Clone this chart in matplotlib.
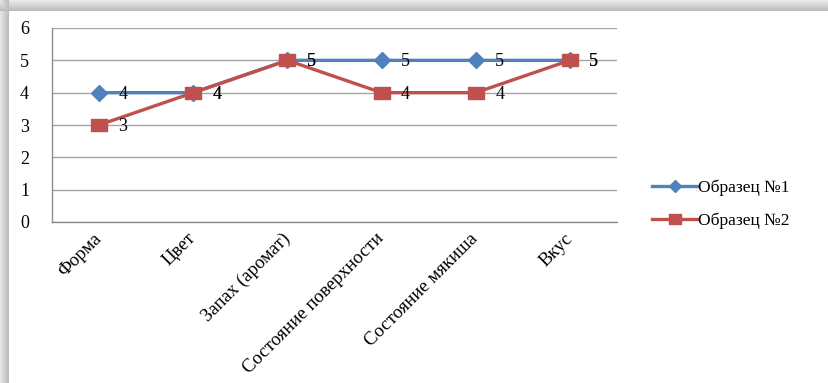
import numpy as np
import matplotlib
matplotlib.use("Agg")
import matplotlib.pyplot as plt
from matplotlib.path import Path
from matplotlib.lines import Line2D

plt.rcParams['font.family'] = ['Liberation Serif', 'DejaVu Serif']

# Оценки образцов по показателям
categories = ["Форма", "Цвет", "Запах (аромат)", "Состояние поверхности",
              "Состояние мякиша", "Вкус"]
sample1 = [4, 4, 5, 5, 5, 5]
sample2 = [3, 4, 5, 4, 4, 5]
series_names = ["Образец №1", "Образец №2"]

BLUE = "#4F81BD"
RED = "#C0504D"
W, H = 829, 383

# slightly wide square marker
wide_sq = Path([(-0.675, -0.5), (0.675, -0.5), (0.675, 0.5), (-0.675, 0.5),
                (-0.675, -0.5)], closed=True)

fig = plt.figure(figsize=(W / 100, H / 100), dpi=100)

# card shadow along the top and left edges
bg = fig.add_axes([0, 0, 1, 1], zorder=-10)
img = np.ones((H, W))
top = 11
left = 9
for r in range(top):
    img[r, :] = 0.92 - 0.18 * r / (top - 1)
for c in range(left):
    img[:, c] = np.minimum(img[:, c], 0.90 - 0.16 * c / (left - 1))
bg.imshow(np.dstack([img] * 3), aspect="auto", interpolation="bilinear")
bg.axis("off")

ax = fig.add_axes([52 / W, 1 - 222 / H, (617 - 52) / W, (222 - 28) / H])
x = np.arange(len(categories))

ax.plot(x, sample1, color=BLUE, lw=2.4, marker="D", ms=8.5, mec=BLUE,
        zorder=3)
ax.plot(x, sample2, color=RED, lw=2.4, marker=wide_sq, ms=11.5, mec=RED,
        zorder=4)

for series in (sample1, sample2):
    for xi, v in zip(x, series):
        ax.annotate(str(v), (xi, v), xytext=(14, -1), textcoords="offset points",
                    ha="left", va="center", fontsize=13, color="black",
                    zorder=5)

ax.set_xlim(-0.5, len(categories) - 0.5)
ax.set_ylim(0, 6)
ax.set_yticks(range(7))
ax.yaxis.grid(True, color="#A6A6A6", lw=1)
ax.set_axisbelow(True)
ax.tick_params(axis="y", length=0, pad=23, labelsize=13)
ax.tick_params(axis="x", length=0, pad=10, labelsize=13.5)
ax.set_xticks(x)
ax.set_xticklabels(categories, rotation=45, ha="right", va="center",
                   rotation_mode="anchor")
for lab in ax.get_yticklabels():
    lab.set_horizontalalignment("left")

for s in ("top", "right"):
    ax.spines[s].set_visible(False)
for s in ("left", "bottom"):
    ax.spines[s].set_color("#8C8C8C")
    ax.spines[s].set_linewidth(1)

handles = [
    Line2D([], [], color=BLUE, lw=2.4, marker="D", ms=6, mec=BLUE),
    Line2D([], [], color=RED, lw=2.4, marker=wide_sq, ms=9, mec=RED),
]
fig.legend(handles, series_names, loc="center left",
           bbox_to_anchor=(645 / W, 1 - 204 / H),
           frameon=False, fontsize=12.5, handlelength=2.6, handletextpad=0.05,
           labelspacing=0.95, borderaxespad=0)

fig.savefig("out.png", dpi=100, facecolor="white")
